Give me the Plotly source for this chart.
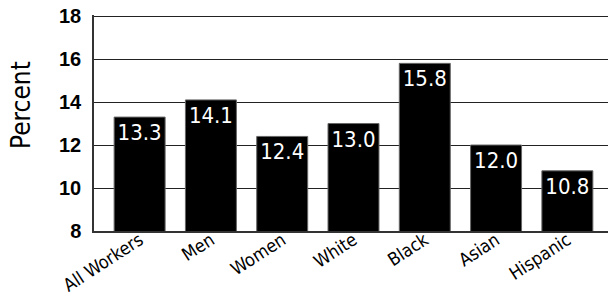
import plotly.graph_objects as go

categories = ["All Workers", "Men", "Women", "White", "Black", "Asian", "Hispanic"]
values = [13.3, 14.1, 12.4, 13.0, 15.8, 12.0, 10.8]
value_labels = ["13.3", "14.1", "12.4", "13.0", "15.8", "12.0", "10.8"]
y_ticks = [8, 10, 12, 14, 16, 18]
y_title = "Percent"

NARROW = "Liberation Sans Narrow, Arial Narrow, DejaVu Sans Condensed, Liberation Sans, Arial, sans-serif"

W, H = 608, 301
ML, MR, MT, MB = 94, 0, 15, 70
PW, PH = W - ML - MR, H - MT - MB

fig = go.Figure(
    go.Bar(
        x=categories,
        y=values,
        text=value_labels,
        textposition="inside",
        insidetextanchor="end",
        textangle=0,
        textfont=dict(family=NARROW, size=22, color="white"),
        marker=dict(color="black", line=dict(color="#666666", width=1)),
        width=0.715,
        hoverinfo="skip",
    )
)

fig.update_layout(
    width=W,
    height=H,
    margin=dict(l=ML, r=MR, t=MT, b=MB),
    paper_bgcolor="white",
    plot_bgcolor="white",
    showlegend=False,
    uniformtext=dict(mode=False),
)

fig.add_annotation(
    text=y_title,
    xref="paper", yref="paper",
    x=(21 - ML) / PW, y=(H - MB - 105) / PH,
    xanchor="center", yanchor="middle",
    textangle=-90,
    showarrow=False,
    font=dict(family=NARROW, size=26, color="black"),
)

fig.update_xaxes(
    type="category",
    range=[-0.64, 6.57],
    tickangle=-33,
    tickfont=dict(family=NARROW, size=18, color="black"),
    showgrid=False,
    showline=True,
    linecolor="#333333",
    linewidth=1.5,
    ticks="",
    ticklabelstandoff=-10,
    automargin=False,
)

fig.update_yaxes(
    range=[8, 18.05],
    tickvals=y_ticks,
    ticktext=[str(v) for v in y_ticks],
    tickfont=dict(family="Liberation Sans, Arial, sans-serif", size=20, color="black", weight="bold"),
    showgrid=True,
    gridcolor="#222222",
    gridwidth=1,
    showline=True,
    linecolor="#333333",
    linewidth=1.5,
    ticks="",
    ticklabelstandoff=7,
    zeroline=False,
    automargin=False,
)

fig.write_html(
    "out.html",
    config={"displayModeBar": False},
    post_script="document.body.style.margin='0';document.body.style.padding='0';",
)
